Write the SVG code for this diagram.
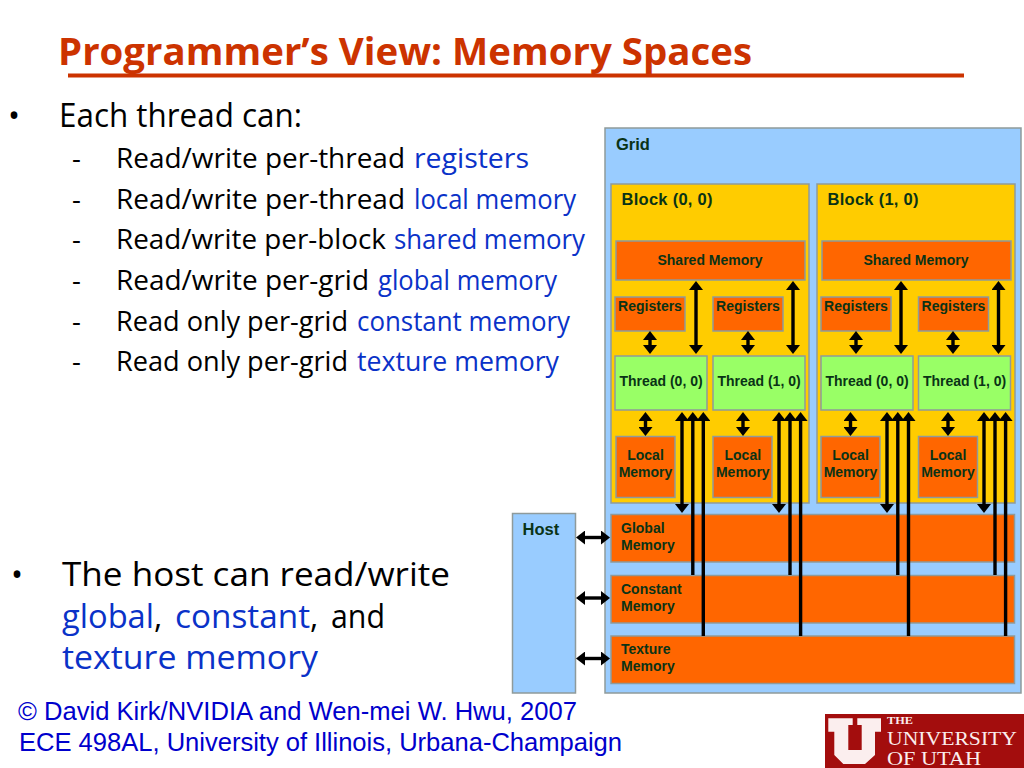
<svg xmlns="http://www.w3.org/2000/svg" width="1024" height="768" viewBox="0 0 1024 768">
<style>
.t{font-family:"Open Sans","Noto Sans",sans-serif;fill:#000}
.b{fill:#0a32c8}
.sub{font-size:27.5px}
.big{font-size:32px}
.title{font-family:"Open Sans","Noto Sans",sans-serif;font-weight:700;font-size:38px;fill:#cc3300}
.foot{font-family:"Liberation Sans",Arial,sans-serif;font-size:25.6px;fill:#0000cc}
.box{stroke:#8f9a9a;stroke-width:1.5}
.blue{fill:#99ccff}.yel{fill:#ffcc00}.org{fill:#ff6600}.grn{fill:#99ff66}
.l{font-family:"Liberation Sans",Arial,sans-serif;font-weight:700;font-size:14px;fill:#0a3316}
.m{text-anchor:middle}
.h{font-size:16.5px}
.c line{stroke:#000;stroke-width:3.4;fill:none}
.d{marker-start:url(#ah);marker-end:url(#ah)}
.s{marker-start:url(#ah)}
</style>
<defs>
<marker id="ah" markerUnits="userSpaceOnUse" viewBox="0 -7 9 14" refX="1" refY="0" markerWidth="9" markerHeight="14" orient="auto-start-reverse"><path d="M0,-7L9,0L0,7Z" fill="#000"/></marker>
</defs>
<rect width="1024" height="768" fill="#fff"/>
<g id="title">
<text class="title" x="58" y="65" textLength="694" lengthAdjust="spacingAndGlyphs">Programmer’s View: Memory Spaces</text>
<rect x="68" y="73.500" width="896" height="4" fill="#cc3300"/>
</g>
<g id="bullets">
<text class="t big" x="8" y="127">•</text>
<text class="t big" x="59" y="127" textLength="243" lengthAdjust="spacingAndGlyphs">Each thread can:</text>
<g class="t sub">
<text x="72" y="168">-</text><text x="72" y="209">-</text><text x="72" y="249">-</text><text x="72" y="290">-</text><text x="72" y="331">-</text><text x="72" y="371">-</text>
</g>
<text class="t sub" x="116" y="168" textLength="289" lengthAdjust="spacingAndGlyphs">Read/write per-thread</text>
<text class="t sub b" x="414" y="168" textLength="115" lengthAdjust="spacingAndGlyphs">registers</text>
<text class="t sub" x="116" y="209" textLength="289" lengthAdjust="spacingAndGlyphs">Read/write per-thread</text>
<text class="t sub b" x="414" y="209" textLength="162" lengthAdjust="spacingAndGlyphs">local memory</text>
<text class="t sub" x="116" y="249" textLength="270" lengthAdjust="spacingAndGlyphs">Read/write per-block</text>
<text class="t sub b" x="394" y="249" textLength="191" lengthAdjust="spacingAndGlyphs">shared memory</text>
<text class="t sub" x="116" y="290" textLength="253" lengthAdjust="spacingAndGlyphs">Read/write per-grid</text>
<text class="t sub b" x="378" y="290" textLength="179" lengthAdjust="spacingAndGlyphs">global memory</text>
<text class="t sub" x="116" y="331" textLength="232" lengthAdjust="spacingAndGlyphs">Read only per-grid</text>
<text class="t sub b" x="357" y="331" textLength="213" lengthAdjust="spacingAndGlyphs">constant memory</text>
<text class="t sub" x="116" y="371" textLength="232" lengthAdjust="spacingAndGlyphs">Read only per-grid</text>
<text class="t sub b" x="357" y="371" textLength="202" lengthAdjust="spacingAndGlyphs">texture memory</text>
<text class="t big" x="11" y="586">•</text>
<text class="t big" x="62" y="586" textLength="388" lengthAdjust="spacingAndGlyphs">The host can read/write</text>
<text class="t big b" x="62" y="628" textLength="92" lengthAdjust="spacingAndGlyphs">global</text>
<text class="t big" x="154" y="628">,</text>
<text class="t big b" x="175" y="628" textLength="135" lengthAdjust="spacingAndGlyphs">constant</text>
<text class="t big" x="310" y="628">,</text>
<text class="t big" x="331" y="628" textLength="54" lengthAdjust="spacingAndGlyphs">and</text>
<text class="t big b" x="62" y="669" textLength="256" lengthAdjust="spacingAndGlyphs">texture memory</text>
</g>
<g id="grid"><rect class="box blue" x="605" y="128" width="416" height="565"/><text class="l h" x="616" y="150">Grid</text></g>
<g id="host"><rect class="box blue" x="512.500" y="513.500" width="63" height="179.500"/><text class="l h" x="522.500" y="535">Host</text></g>
<g id="block-0-0"><rect class="box yel" x="611" y="184" width="198" height="319"/><text class="l h" x="621.500" y="205" textLength="91">Block (0, 0)</text></g>
<g id="block-1-0"><rect class="box yel" x="817" y="184" width="198" height="319"/><text class="l h" x="827.500" y="205" textLength="91">Block (1, 0)</text></g>
<g id="shared-0"><rect class="box org" x="616" y="241" width="189" height="39"/><text class="l m" x="710" y="265">Shared Memory</text></g>
<g id="shared-1"><rect class="box org" x="822" y="241" width="189" height="39"/><text class="l m" x="916" y="265">Shared Memory</text></g>
<g id="reg-0"><rect class="box org" x="615" y="297" width="70" height="34"/><text class="l m" x="650" y="311">Registers</text></g>
<g id="reg-1"><rect class="box org" x="713" y="297" width="70" height="34"/><text class="l m" x="748" y="311">Registers</text></g>
<g id="reg-2"><rect class="box org" x="821" y="297" width="70" height="34"/><text class="l m" x="856" y="311">Registers</text></g>
<g id="reg-3"><rect class="box org" x="918.500" y="297" width="70" height="34"/><text class="l m" x="953.500" y="311">Registers</text></g>
<g id="thread-0"><rect class="box grn" x="615" y="356" width="92" height="54"/><text class="l m" x="661" y="386">Thread (0, 0)</text></g>
<g id="thread-1"><rect class="box grn" x="713" y="356" width="92" height="54"/><text class="l m" x="759" y="386">Thread (1, 0)</text></g>
<g id="thread-2"><rect class="box grn" x="821" y="356" width="92" height="54"/><text class="l m" x="867" y="386">Thread (0, 0)</text></g>
<g id="thread-3"><rect class="box grn" x="918.500" y="356" width="92" height="54"/><text class="l m" x="964.500" y="386">Thread (1, 0)</text></g>
<g id="local-0"><rect class="box org" x="616" y="436.500" width="59" height="61"/><text class="l m" x="645.500" y="460">Local</text><text class="l m" x="645.500" y="477">Memory</text></g>
<g id="local-1"><rect class="box org" x="713" y="436.500" width="59" height="61"/><text class="l m" x="742.800" y="460">Local</text><text class="l m" x="742.800" y="477">Memory</text></g>
<g id="local-2"><rect class="box org" x="821" y="436.500" width="59" height="61"/><text class="l m" x="850.500" y="460">Local</text><text class="l m" x="850.500" y="477">Memory</text></g>
<g id="local-3"><rect class="box org" x="918.500" y="436.500" width="59" height="61"/><text class="l m" x="948" y="460">Local</text><text class="l m" x="948" y="477">Memory</text></g>
<g id="global"><rect class="box org" x="611" y="514.500" width="403.500" height="47.500"/><text class="l" x="621" y="533">Global</text><text class="l" x="621" y="550">Memory</text></g>
<g id="constant"><rect class="box org" x="611" y="575.500" width="403.500" height="47.500"/><text class="l" x="621" y="594">Constant</text><text class="l" x="621" y="611">Memory</text></g>
<g id="texture"><rect class="box org" x="611" y="636" width="403.500" height="47.500"/><text class="l" x="621" y="654">Texture</text><text class="l" x="621" y="671">Memory</text></g>
<g id="connectors" class="c">
<line class="d" x1="650" y1="339" x2="650" y2="346"/><line class="d" x1="748" y1="339" x2="748" y2="346"/><line class="d" x1="856" y1="339" x2="856" y2="346"/><line class="d" x1="953" y1="339" x2="953" y2="346"/>
<line class="d" x1="696" y1="289" x2="696" y2="346"/><line class="d" x1="793" y1="289" x2="793" y2="346"/><line class="d" x1="901" y1="289" x2="901" y2="346"/><line class="d" x1="998.500" y1="289" x2="998.500" y2="346"/>
<line class="d" x1="645.500" y1="420" x2="645.500" y2="428"/><line class="d" x1="743" y1="420" x2="743" y2="428"/><line class="d" x1="850.500" y1="420" x2="850.500" y2="428"/><line class="d" x1="948" y1="420" x2="948" y2="428"/>
<line class="d" x1="682" y1="420" x2="682" y2="505"/><line class="d" x1="779" y1="420" x2="779" y2="505"/><line class="d" x1="887" y1="420" x2="887" y2="505"/><line class="d" x1="984" y1="420" x2="984" y2="505"/>
<line class="s" x1="692.800" y1="420" x2="692.800" y2="575"/><line class="s" x1="790" y1="420" x2="790" y2="575"/><line class="s" x1="897.800" y1="420" x2="897.800" y2="575"/><line class="s" x1="995" y1="420" x2="995" y2="575"/>
<line class="s" x1="703.300" y1="420" x2="703.300" y2="636"/><line class="s" x1="800.600" y1="420" x2="800.600" y2="636"/><line class="s" x1="908.500" y1="420" x2="908.500" y2="636"/><line class="s" x1="1005.600" y1="420" x2="1005.600" y2="636"/>
<line class="d" x1="584" y1="537.500" x2="602" y2="537.500"/><line class="d" x1="584" y1="598" x2="602" y2="598"/><line class="d" x1="584" y1="658.500" x2="602" y2="658.500"/>
</g>
<g id="footer">
<text class="foot" x="18" y="720" textLength="559">© David Kirk/NVIDIA and Wen-mei W. Hwu, 2007</text>
<text class="foot" x="19" y="751" textLength="603">ECE 498AL, University of Illinois, Urbana-Champaign</text>
</g>
<g id="logo">
<rect x="825" y="714" width="199" height="54" fill="#a30d0d"/>
<path d="M828.300 718.300H852.700V725H848.300V750H861.700V725H857.300V718.300H881V731.700H875V755L865 764H843.300L834.300 755V731.700H828.300Z" fill="#fbeeee"/>
<g font-family="Liberation Serif,serif" fill="#fbeeee">
<text x="887" y="724" font-size="10" font-weight="700" textLength="26" lengthAdjust="spacingAndGlyphs">THE</text>
<text x="887" y="744.500" font-size="18" textLength="130" lengthAdjust="spacingAndGlyphs">UNIVERSITY</text>
<text x="887" y="765" font-size="18" textLength="94" lengthAdjust="spacingAndGlyphs">OF UTAH</text>
</g>
</g>
</svg>
